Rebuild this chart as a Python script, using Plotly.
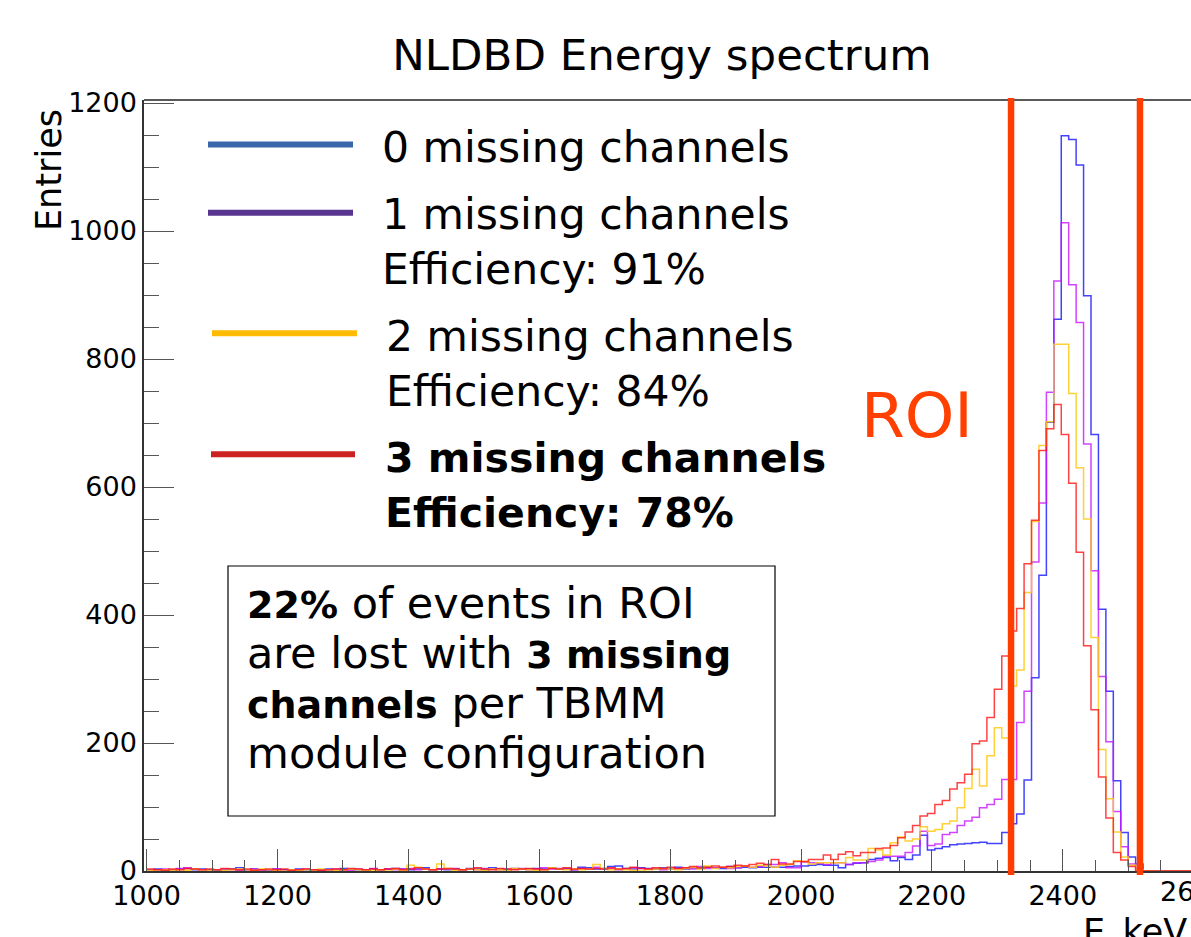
import numpy as np
import plotly.graph_objects as go

# ---- histogram binning: 1000-3000 keV, 176 bins ----
BIN_LO, BIN_HI, N_BINS = 1000.0, 3000.0, 176

# counts per bin, bins 0-82 (1000-1943 keV)
counts_0_low = [2, 3, 2, 1, 3, 4, 2, 3, 2, 1,
                2, 3, 5, 2, 3, 2, 1, 3, 2, 2,
                3, 2, 1, 2, 3, 2, 4, 3, 2, 1,
                3, 2, 3, 4, 3, 2, 3, 5, 2, 3,
                2, 3, 2, 4, 3, 2, 5, 3, 2, 4,
                3, 3, 4, 3, 5, 3, 4, 2, 6, 5,
                3, 4, 7, 8, 4, 3, 5, 4, 3, 5,
                4, 6, 3, 5, 4, 6, 5, 4, 7, 5,
                6, 5, 6]
counts_1_low = [1, 2, 3, 2, 4, 5, 3, 2, 1, 2,
                3, 2, 1, 2, 3, 2, 2, 3, 1, 2,
                2, 3, 2, 1, 2, 3, 2, 1, 3, 2,
                4, 2, 3, 2, 3, 4, 2, 3, 2, 3,
                3, 4, 2, 3, 2, 4, 3, 2, 3, 3,
                4, 2, 3, 5, 3, 4, 3, 2, 4, 3,
                6, 3, 4, 2, 3, 5, 4, 3, 4, 2,
                3, 4, 5, 3, 7, 4, 5, 6, 4, 5,
                8, 6, 7]
counts_2_low = [1, 0, 2, 1, 2, 1, 3, 2, 1, 2,
                1, 2, 3, 2, 1, 3, 2, 1, 0, 2,
                1, 2, 1, 3, 2, 1, 2, 3, 2, 1,
                1, 2, 0, 3, 1, 9, 6, 3, 2, 11,
                4, 1, 2, 3, 2, 1, 3, 2, 1, 4,
                3, 2, 1, 2, 5, 3, 2, 3, 2, 3,
                10, 4, 2, 3, 2, 1, 0, 2, 3, 4,
                3, 2, 4, 6, 3, 8, 4, 6, 5, 7,
                8, 6, 9]
counts_3_low = [3, 2, 1, 3, 2, 4, 3, 2, 3, 2,
                4, 3, 2, 3, 1, 2, 3, 2, 3, 1,
                2, 3, 2, 1, 2, 3, 2, 4, 3, 2,
                3, 2, 3, 4, 2, 3, 5, 3, 2, 3,
                4, 3, 2, 3, 5, 3, 2, 4, 3, 2,
                3, 4, 3, 2, 4, 3, 5, 3, 4, 3,
                4, 3, 5, 3, 4, 6, 4, 3, 5, 4,
                6, 4, 5, 7, 5, 6, 8, 6, 7, 9,
                8, 10, 12]

# counts per bin, bins 83-140 (1943-2602 keV)
counts_0_high = [6, 6, 6, 7, 8, 8, 9, 10, 9, 9,
                 5, 10, 12, 13, 18, 20, 21, 16, 21, 18,
                 25, 56, 33, 35, 38, 41, 42, 43, 44, 45,
                 43, 43, 60, 74, 89, 142, 302, 462, 701, 862,
                 1149, 1143, 1103, 899, 682, 409, 281, 141, 60, 22,
                 11, 0, 0, 0, 0, 0, 0, 0]
counts_1_high = [10, 10, 13, 5, 5, 14, 13, 12, 10, 13,
                 13, 10, 13, 13, 15, 17, 23, 23, 23, 29,
                 39, 62, 40, 42, 57, 60, 71, 78, 84, 99,
                 104, 112, 143, 143, 232, 281, 483, 575, 748, 922,
                 1013, 916, 857, 667, 469, 304, 202, 93, 38, 11,
                 3, 0, 0, 0, 0, 0, 0, 0]
counts_2_high = [8, 6, 9, 10, 16, 15, 11, 13, 13, 13,
                 13, 21, 17, 17, 35, 33, 25, 44, 53, 47,
                 50, 69, 62, 65, 74, 78, 99, 129, 159, 133,
                 180, 224, 208, 289, 314, 435, 546, 665, 702, 823,
                 823, 746, 630, 550, 365, 190, 113, 61, 22, 9,
                 2, 0, 0, 0, 0, 0, 0, 0]
counts_3_high = [10, 18, 11, 11, 15, 15, 18, 18, 25, 18,
                 26, 30, 24, 29, 29, 35, 36, 40, 52, 61,
                 71, 86, 90, 104, 110, 128, 138, 151, 199, 203,
                 240, 284, 336, 375, 410, 480, 548, 657, 691, 729,
                 682, 606, 498, 352, 252, 147, 83, 29, 17, 7,
                 0, 0, 0, 0, 0, 0, 0, 0]

series_names = ["0 missing channels", "1 missing channels",
                "2 missing channels", "3 missing channels"]
efficiency_text = [None, "Efficiency: 91%", "Efficiency: 84%", "Efficiency: 78%"]
hist_colors = ["rgba(20,20,255,0.8)", "rgba(200,20,255,0.8)",
               "rgba(255,200,20,0.85)", "rgba(255,20,20,0.8)"]
legend_colors = ["#3867ab", "#5a3590", "#ffbb00", "#cc2222"]

roi_bounds = [2321, 2518]
x_ticks = [1000, 1200, 1400, 1600, 1800, 2000, 2200, 2400]
y_ticks = [0, 200, 400, 600, 800, 1000, 1200]

FONT = "DejaVu Sans"
W, H = 1191, 937
PL, PR, PT, PB = 144, 1191, 100, 871   # plot frame in pixels


def px(xp):
    return (xp - PL) / (PR - PL)


def py(yp):
    return (PB - yp) / (PB - PT)


def bold(t, size):
    return f'<span style="font-size:{size}px"><b>{t}</b></span>'


edges = BIN_LO + (BIN_HI - BIN_LO) / N_BINS * np.arange(N_BINS + 1)
all_counts = [counts_0_low + counts_0_high, counts_1_low + counts_1_high,
              counts_2_low + counts_2_high, counts_3_low + counts_3_high]

fig = go.Figure()
for name, counts, col in zip(series_names, all_counts, hist_colors):
    n = len(counts)
    fig.add_trace(go.Scatter(
        x=edges[:n + 1], y=list(counts) + [counts[-1]],
        mode="lines", line=dict(shape="hv", color=col, width=1.5),
        name=name, showlegend=False, hoverinfo="skip"))

shapes = []
# top frame edge
shapes.append(dict(type="line", xref="paper", yref="paper", x0=0, x1=1, y0=1, y1=1,
                   line=dict(color="#222", width=1.5)))
# ROI boundaries
for xb in roi_bounds:
    shapes.append(dict(type="line", xref="x", yref="paper", x0=xb, x1=xb,
                       y0=py(875), y1=py(98), line=dict(color="#ff3d00", width=6.5),
                       layer="above"))

annotations = []

# hand-placed legend
legend_rows = [(144.5, 208, 353, 380, 147), (212.7, 208, 353, 380, 214),
               (333.3, 212, 357, 384, 336), (454.3, 211, 355, 383, 458)]
for i, (ly, lx0, lx1, tx, ty) in enumerate(legend_rows):
    shapes.append(dict(type="line", xref="paper", yref="paper",
                       x0=px(lx0), x1=px(lx1), y0=py(ly), y1=py(ly),
                       line=dict(color=legend_colors[i], width=6)))
    is_bold = i == 3
    lines = [series_names[i]] + ([efficiency_text[i]] if efficiency_text[i] else [])
    for j, t in enumerate(lines):
        annotations.append(dict(
            xref="paper", yref="paper", x=px(tx), y=py(ty + 55 * j),
            xanchor="left", yanchor="middle", showarrow=False,
            text=f"<b>{t}</b>" if is_bold else t,
            font=dict(family=FONT, size=41 if is_bold else 42.5, color="black")))

# summary box
shapes.append(dict(type="rect", xref="paper", yref="paper",
                   x0=px(228), x1=px(775), y0=py(816), y1=py(566),
                   line=dict(color="black", width=1.2), fillcolor="rgba(0,0,0,0)"))
box_lines = [bold("22%", 38) + " of events in ROI",
             "are lost with " + bold("3 missing", 38),
             bold("channels", 38) + " per TBMM",
             "module configuration"]
for j, t in enumerate(box_lines):
    annotations.append(dict(
        xref="paper", yref="paper", x=px(245), y=py(603 + 50 * j),
        xanchor="left", yanchor="middle", showarrow=False, text=t,
        font=dict(family=FONT, size=43, color="black")))

# ROI label
annotations.append(dict(xref="paper", yref="paper", x=px(859), y=py(415),
                        xanchor="left", yanchor="middle", showarrow=False, text="ROI",
                        font=dict(family=FONT, size=63, color="#ff4000")))

# axis titles
annotations.append(dict(xref="paper", yref="paper", x=px(49), y=py(170),
                        xanchor="center", yanchor="middle", showarrow=False,
                        text="Entries", textangle=-90,
                        font=dict(family=FONT, size=35, color="black")))
annotations.append(dict(xref="paper", yref="paper", x=px(1081), y=py(910),
                        xanchor="left", yanchor="top", showarrow=False,
                        text="E_keV", font=dict(family=FONT, size=35, color="black")))
# 2600 label at the right edge
annotations.append(dict(xref="paper", yref="paper", x=px(1194), y=py(892),
                        xanchor="center", yanchor="middle", showarrow=False,
                        text="2600", font=dict(family=FONT, size=27, color="black")))

fig.update_layout(
    width=W, height=H,
    margin=dict(l=PL, r=W - PR, t=PT, b=H - PB, pad=0),
    paper_bgcolor="white", plot_bgcolor="white",
    title=dict(text="NLDBD Energy spectrum", xref="container", yref="container",
               x=662 / W, y=1 - 55 / H, xanchor="center", yanchor="middle",
               font=dict(family=FONT, size=43.5, color="black")),
    xaxis=dict(range=[996, 996 + (PR - PL) / 0.65438], tickvals=x_ticks,
               ticks="inside", ticklen=22, tickcolor="#555", tickwidth=1,
               minor=dict(dtick=50, tick0=1000, ticks="inside", ticklen=11,
                          tickcolor="#555", tickwidth=1),
               showline=True, linecolor="#333", linewidth=1.5,
               showgrid=False, zeroline=False,
               tickfont=dict(family=FONT, size=27, color="black")),
    yaxis=dict(range=[0, 771 / 0.64], tickvals=y_ticks,
               ticks="inside", ticklen=30, tickcolor="#555", tickwidth=1,
               minor=dict(dtick=50, tick0=0, ticks="inside", ticklen=15,
                          tickcolor="#555", tickwidth=1),
               showline=True, linecolor="#333", linewidth=1.5,
               showgrid=False, zeroline=False,
               tickfont=dict(family=FONT, size=27, color="black")),
    shapes=shapes, annotations=annotations,
)

fig.write_html("out.html")
